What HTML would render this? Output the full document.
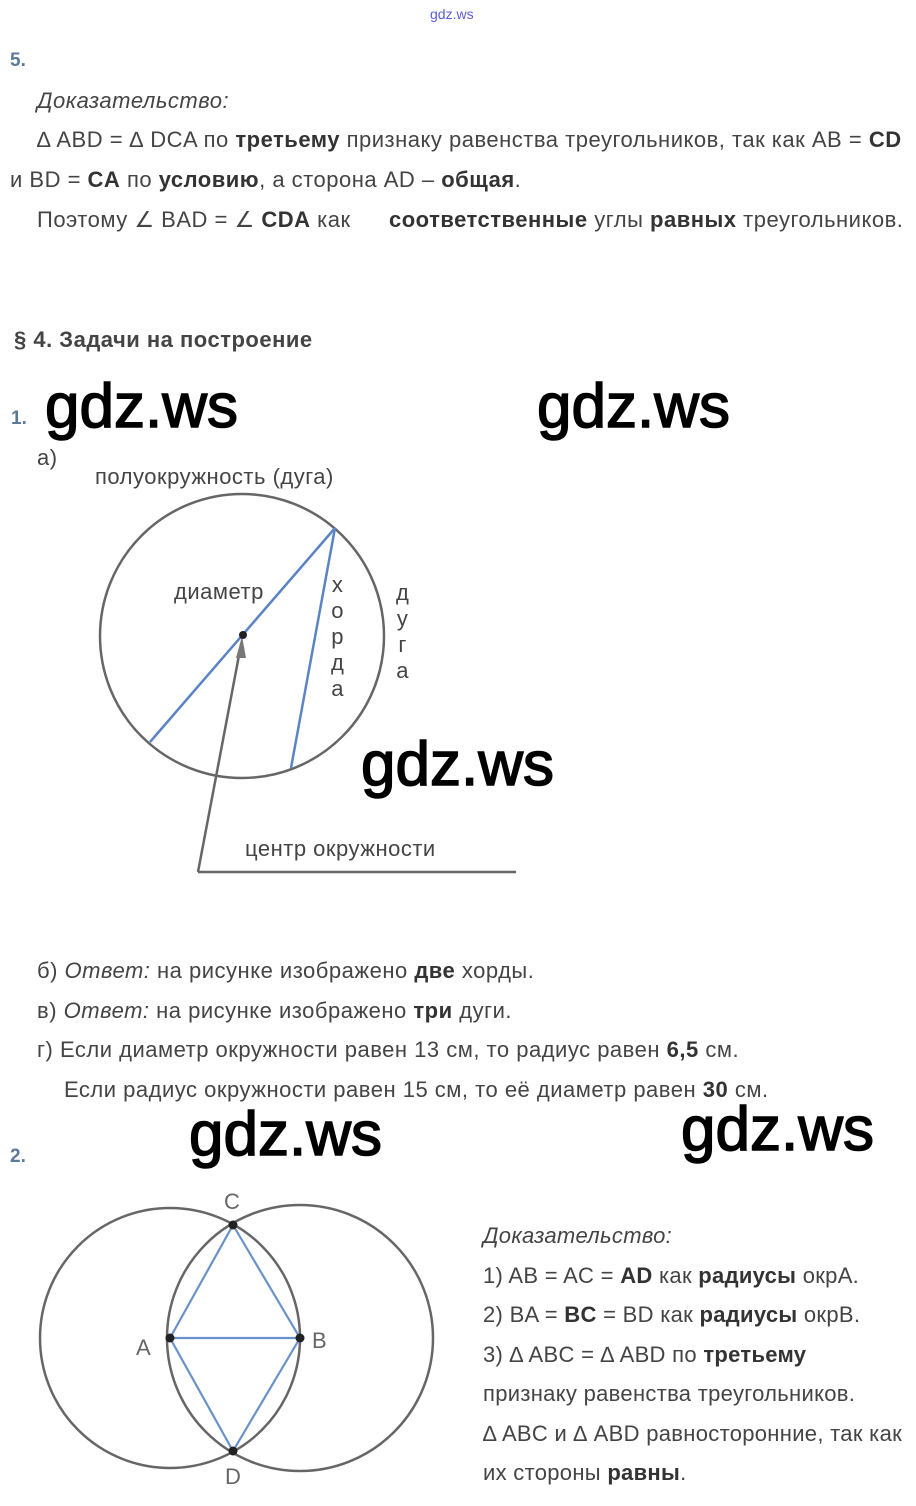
<!DOCTYPE html>
<html><head><meta charset="utf-8">
<style>
html,body{margin:0;padding:0;background:#fff;}
body{width:916px;height:1506px;position:relative;overflow:hidden;font-family:"Liberation Sans",Arial,sans-serif;color:#444;}
.t{position:absolute;white-space:nowrap;font-size:22px;letter-spacing:0.5px;line-height:24px;}
.r{letter-spacing:0.3px;}
b{color:#333;}
.n{position:absolute;font-size:19px;font-weight:bold;color:#5b7a99;}
.w{position:absolute;white-space:nowrap;font-size:62px;line-height:62px;color:#000;-webkit-text-stroke:1.5px #000;letter-spacing:0px;}
i{font-style:italic;}
svg{position:absolute;left:0;top:0;}
</style></head><body>
<div class="t" style="left:430px;top:2px;font-size:14px;letter-spacing:0;color:#5b5bd6;">gdz.ws</div>

<div class="n" style="left:10px;top:50px;">5.</div>
<div class="t" style="left:37px;top:89px;"><i>Доказательство:</i></div>
<div class="t" style="left:37px;top:128px;">∆ ABD = ∆ DCA по <b>третьему</b> признаку равенства треугольников, так как AB = <b>CD</b></div>
<div class="t" style="left:10px;top:168px;">и BD = <b>CA</b> по <b>условию</b>, а сторона AD – <b>общая</b>.</div>
<div class="t" style="left:37px;top:208px;">Поэтому ∠ BAD = ∠ <b>CDA</b> как</div>
<div class="t" style="left:389px;top:208px;"><b>соответственные</b> углы <b>равных</b> треугольников.</div>

<div class="t" style="left:14px;top:328px;font-weight:bold;color:#444;">§ 4. Задачи на построение</div>

<div class="n" style="left:11px;top:408px;">1.</div>
<div class="w" style="left:45px;top:376px;">gdz.ws</div>
<div class="w" style="left:537px;top:376px;">gdz.ws</div>
<div class="t" style="left:37px;top:446px;">а)</div>
<div class="t" style="left:95px;top:465px;">полуокружность (дуга)</div>

<svg width="916" height="1506" viewBox="0 0 916 1506">
 <circle cx="242" cy="636" r="142" fill="none" stroke="#666" stroke-width="2.5"/>
 <line x1="150" y1="742" x2="335" y2="528" stroke="#5b84c4" stroke-width="2.5"/>
 <line x1="335" y1="528" x2="291" y2="768" stroke="#5b84c4" stroke-width="2.5"/>
 <line x1="198" y1="872" x2="240" y2="650" stroke="#666" stroke-width="2.5"/>
 <polygon points="242,636 236,658 246,658" fill="#777"/>
 <circle cx="243" cy="635" r="4" fill="#222"/>
 <line x1="198" y1="872" x2="516" y2="872" stroke="#666" stroke-width="2.5"/>

 <circle cx="170" cy="1338" r="130" fill="none" stroke="#666" stroke-width="2.5"/>
 <circle cx="300" cy="1338" r="133" fill="none" stroke="#666" stroke-width="2.5"/>
 <polygon points="233,1225 300,1338 233,1451 170,1338" fill="none" stroke="#6a92c8" stroke-width="2.2"/>
 <line x1="170" y1="1338" x2="300" y2="1338" stroke="#6a92c8" stroke-width="2.2"/>
 <circle cx="233" cy="1225" r="4.5" fill="#222"/>
 <circle cx="233" cy="1451" r="4.5" fill="#222"/>
 <circle cx="170" cy="1338" r="4.5" fill="#222"/>
 <circle cx="300" cy="1338" r="4.5" fill="#222"/>
</svg>

<div class="t" style="left:174px;top:580px;">диаметр</div>
<div class="t" style="left:331px;top:572px;line-height:26px;text-align:center;">х<br>о<br>р<br>д<br>а</div>
<div class="t" style="left:396px;top:580px;line-height:26px;text-align:center;">д<br>у<br>г<br>а</div>
<div class="w" style="left:361px;top:734px;">gdz.ws</div>
<div class="t" style="left:245px;top:837px;">центр окружности</div>

<div class="t" style="left:37px;top:959px;">б) <i>Ответ:</i> на рисунке изображено <b>две</b> хорды.</div>
<div class="t" style="left:37px;top:999px;">в) <i>Ответ:</i> на рисунке изображено <b>три</b> дуги.</div>
<div class="t" style="left:37px;top:1038px;">г) Если диаметр окружности равен 13 см, то радиус равен <b>6,5</b> см.</div>
<div class="t" style="left:64px;top:1078px;">Если радиус окружности равен 15 см, то её диаметр равен <b>30</b> см.</div>

<div class="n" style="left:10px;top:1146px;">2.</div>
<div class="w" style="left:189px;top:1104px;">gdz.ws</div>
<div class="w" style="left:681px;top:1099px;">gdz.ws</div>

<div class="t" style="left:224px;top:1190px;color:#666;">C</div>
<div class="t" style="left:136px;top:1336px;color:#666;">A</div>
<div class="t" style="left:312px;top:1329px;color:#666;">B</div>
<div class="t" style="left:225px;top:1465px;color:#666;">D</div>

<div class="t r" style="left:483px;top:1224px;"><i>Доказательство:</i></div>
<div class="t r" style="left:483px;top:1264px;">1) AB = AC = <b>AD</b> как <b>радиусы</b> окрA.</div>
<div class="t r" style="left:483px;top:1303px;">2) BA = <b>BC</b> = BD как <b>радиусы</b> окрB.</div>
<div class="t r" style="left:483px;top:1343px;">3) ∆ ABC = ∆ ABD по <b>третьему</b></div>
<div class="t r" style="left:483px;top:1382px;">признаку равенства треугольников.</div>
<div class="t r" style="left:483px;top:1422px;">∆ ABC и ∆ ABD равносторонние, так как</div>
<div class="t r" style="left:483px;top:1461px;">их стороны <b>равны</b>.</div>
</body></html>
